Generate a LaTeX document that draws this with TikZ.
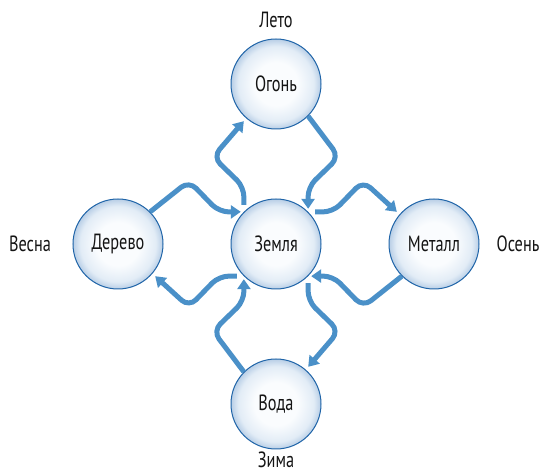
\documentclass[tikz,border=0pt]{standalone}
\usepackage{fontspec}
\setmainfont{PT Sans}[FakeStretch=0.74]
\usetikzlibrary{arrows.meta}
\definecolor{flowblue}{HTML}{4A90C8}
\definecolor{rimblue}{HTML}{1F64A8}
\definecolor{orbcore}{HTML}{FAFCFE}
\definecolor{orbmid}{HTML}{E2ECF6}
\definecolor{orbrim}{HTML}{B8CEE6}
\pgfdeclareradialshading{orb}{\pgfpoint{0bp}{0bp}}{color(0bp)=(orbcore);color(12bp)=(orbcore);color(21bp)=(orbmid);color(25bp)=(orbrim);color(50bp)=(orbrim)}
\tikzset{>={Triangle[length=10pt,width=13pt]},
  every node/.style={font=\fontsize{22}{24}\selectfont,text=black!92},
  element/.style={circle,draw=rimblue,line width=1pt,shading=orb,minimum size=90pt,inner sep=0pt},
  season/.style={inner sep=0pt},
  flow/.style={->,draw=flowblue,line width=5pt,rounded corners=10pt}}
\begin{document}
\begin{tikzpicture}[x=1pt,y=-1pt]
\useasboundingbox(0,0)rectangle(542,473);
\node[element](ogon)at(276,84){Огонь};
\node[element](zemlya)at(276,244){Земля};
\node[element](derevo)at(118,244){Дерево};
\node[element](metall)at(434,244){Металл};
\node[element](voda)at(276,404){Вода};
\node[season](leto)at(276,20){Лето};\node[season](zima)at(276,460){Зима};
\node[season](vesna)at(30,244){Весна};\node[season](osen)at(518,244){Осень};
\draw[flow](derevo.45)--(189,181)--(219,212)--([xshift=-3pt]zemlya.135);
\draw[flow]([yshift=7pt]zemlya.135)--(244,187)--(213,157)--([yshift=-5pt]ogon.225);
\draw[flow](ogon.-45)--(339,157)--(308,187)--([yshift=3pt]zemlya.45);
\draw[flow]([xshift=7pt]zemlya.45)--(333,212)--(363,181)--([xshift=-5pt]metall.135);
\draw[flow](metall.225)--(363,307)--(333,276)--([xshift=3pt]zemlya.-45);
\draw[flow]([yshift=-7pt]zemlya.-45)--(308,301)--(339,331)--([yshift=5pt]voda.45);
\draw[flow](voda.135)--(213,331)--(244,301)--([yshift=-3pt]zemlya.225);
\draw[flow]([xshift=-7pt]zemlya.225)--(219,276)--(189,307)--([xshift=5pt]derevo.-45);
\end{tikzpicture}
\end{document}
